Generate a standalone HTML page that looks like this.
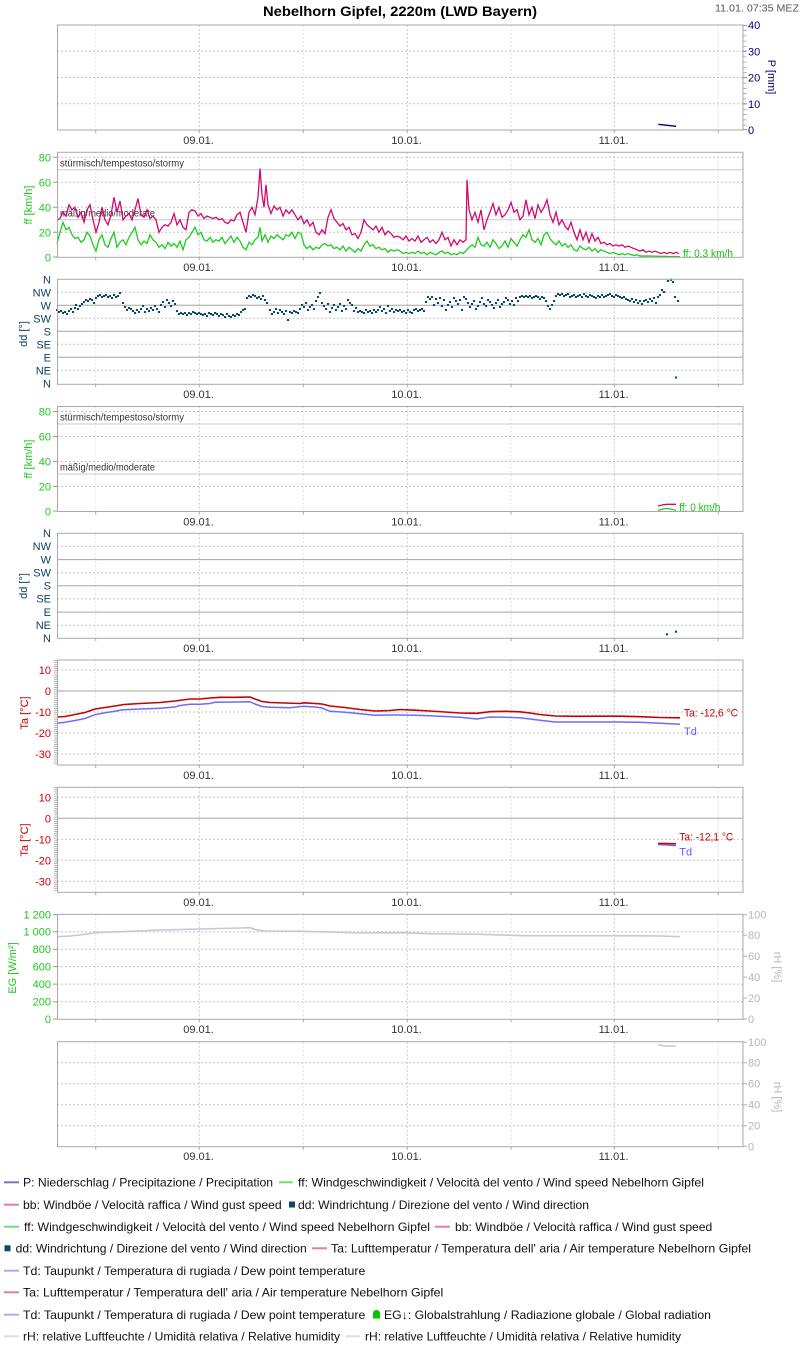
<!DOCTYPE html>
<html><head><meta charset="utf-8"><style>
html,body{margin:0;padding:0;background:#fff;}
svg{display:block;font-family:"Liberation Sans",Arial,sans-serif;}
.fr{fill:none;stroke:#a9a9a9;stroke-width:1}
.vd{stroke:#c6c6c6;stroke-width:1;stroke-dasharray:2,2}
.vl{stroke:#e2e2e2;stroke-width:1;stroke-dasharray:2,2}
.hd{stroke:#c4c4c4;stroke-width:1;stroke-dasharray:2,2}
.hs{stroke:#a6a6a6;stroke-width:1}
.hl{stroke:#c8c8c8;stroke-width:1}
.xl{font-size:11px;fill:#333;text-anchor:middle}
.yl{font-size:11px;text-anchor:end}
.rl{font-size:11px;text-anchor:start}
.tk{stroke:#999;stroke-width:1}
.lg{font-size:12px;fill:#111}
.ns{vector-effect:non-scaling-stroke}
</style></head><body>
<svg width="800" height="1350" viewBox="0 0 800 1350" xmlns="http://www.w3.org/2000/svg">
<defs>
<g id="vg">
<line class="vl" x1="95.7" y1="0" x2="95.7" y2="105"/>
<line class="vd" x1="199.3" y1="0" x2="199.3" y2="105"/>
<line class="vl" x1="303.3" y1="0" x2="303.3" y2="105"/>
<line class="vd" x1="407.3" y1="0" x2="407.3" y2="105"/>
<line class="vl" x1="511" y1="0" x2="511" y2="105"/>
<line class="vd" x1="614.3" y1="0" x2="614.3" y2="105"/>
<line class="vl" x1="718.3" y1="0" x2="718.3" y2="105"/>
</g>
<g id="fb">
<rect class="fr" x="57.5" y="0" width="685.5" height="105"/>
<path d="M95.7 105v3M199.3 105v3M303.3 105v3M407.3 105v3M511 105v3M614.3 105v3M718.3 105v3" stroke="#aaa" stroke-width="1"/>
</g>
</defs>

<!-- Title -->
<text x="263" y="16" font-size="14" font-weight="bold" fill="#000" textLength="274" lengthAdjust="spacingAndGlyphs">Nebelhorn Gipfel, 2220m (LWD Bayern)</text>
<text x="715" y="11.5" font-size="10" fill="#555" textLength="84" lengthAdjust="spacingAndGlyphs">11.01. 07:35 MEZ</text>

<!-- Panel 1: P -->
<g transform="translate(0,25)"><use href="#vg"/></g>
<line class="hd" x1="57" y1="51.25" x2="743" y2="51.25"/>
<line class="hd" x1="57" y1="77.5" x2="743" y2="77.5"/>
<line class="hd" x1="57" y1="103.75" x2="743" y2="103.75"/>
<polyline points="658.3,124.3 676,126.3" fill="none" stroke="#000080" stroke-width="1.3"/>
<g transform="translate(0,25)"><use href="#fb"/></g>
<line x1="745" y1="25" x2="745" y2="130" stroke="#999" stroke-width="3" stroke-dasharray="0.7 4.55"/>
<path class="tk" d="M743 25.5h4M743 51.25h4M743 77.5h4M743 103.75h4M743 129.5h4"/>
<g fill="#000080">
<text class="rl" x="748" y="29">40</text>
<text class="rl" x="748" y="55.5">30</text>
<text class="rl" x="748" y="81.5">20</text>
<text class="rl" x="748" y="108">10</text>
<text class="rl" x="748" y="134">0</text>
<text font-size="11" text-anchor="middle" transform="translate(768,77) rotate(90)">P [mm]</text>
</g>
<text class="xl" x="198.5" y="144">09.01.</text>
<text class="xl" x="406.5" y="144">10.01.</text>
<text class="xl" x="613.5" y="144">11.01.</text>

<!-- Panel 2: wind -->
<g transform="translate(0,152.3)"><use href="#vg"/></g>
<line class="hd" x1="57" y1="157.3" x2="743" y2="157.3"/>
<line class="hd" x1="57" y1="182.3" x2="743" y2="182.3"/>
<line class="hd" x1="57" y1="207.3" x2="743" y2="207.3"/>
<line class="hd" x1="57" y1="232.3" x2="743" y2="232.3"/>
<line class="hl" x1="57" y1="169.8" x2="743" y2="169.8"/>
<line class="hl" x1="57" y1="219.8" x2="743" y2="219.8"/>
<text x="60" y="166.5" font-size="10" fill="#333" textLength="124" lengthAdjust="spacingAndGlyphs">stürmisch/tempestoso/stormy</text>
<text x="60" y="216.5" font-size="10" fill="#333" textLength="95" lengthAdjust="spacingAndGlyphs">mäßig/medio/moderate</text>
<g transform="translate(0,257.3) scale(1,-1.25)">
<polyline class="ns" fill="none" stroke="#d10a6e" stroke-width="1.3" points="57,30 60,31 63,36 66,33 69,42 72,38 75,40 78,32 81,36 84,28 87,38 90,42 93,30 96,20 99,28 102,40 105,30 108,26 111,34 114,48 117,36 120,45 123,30 126,33 129,35 132,30 135,38 138,47 141,34 144,32 147,38 150,31 153,33 156,30 159,20 162,24 165,26 168,25 171,28 174,35 177,26 180,30 183,24 186,22 189,36 192,38 195,37 198,33 201,35 204,31 207,33 210,32 213,31 216,32 219,30 222,31 225,28 228,27 231,30 234,29 237,34 240,36 243,28 246,20 249,36 252,40 255,34 258,48 260,71 262,50 264,40 266,58 268,42 271,35 274,41 277,38 280,40 283,33 286,38 289,35 292,38 295,34 298,30 301,33 304,27 307,30 310,25 313,28 316,20 319,18 322,22 325,19 328,32 331,38 334,31 337,28 340,25 343,27 346,22 349,24 352,18 355,19 358,15 361,20 364,30 367,26 370,24 373,22 376,25 379,20 382,24 385,18 388,21 391,19 394,16 397,17 400,16 403,14 406,17 409,13 412,15 415,13 418,17 421,12 424,14 427,16 430,12 433,14 436,11 439,14 442,20 445,14 448,16 451,9 454,14 457,10 460,14 463,12 466,14 467,62 469,38 472,30 475,36 478,28 481,38 484,22 487,30 490,36 493,43 496,34 499,40 502,32 505,34 508,38 511,44 514,36 517,38 520,30 523,33 526,46 529,34 532,40 535,31 538,42 541,36 544,40 547,46 550,34 553,28 556,36 559,26 562,30 565,25 568,22 571,28 574,20 577,14 580,22 583,14 586,20 589,12 592,19 595,13 598,16 601,11 604,12 607,10 610,11 613,9 616,10 619,9 622,10 625,8 628,9 631,8 634,7 637,6 640,5 643,6 646,4 649,5 652,4 655,5 658,4 661,3 664,4 667,3 670,4 673,3 676,4 679,3"/>
<polyline class="ns" fill="none" stroke="#1ecb1e" stroke-width="1.3" points="57,11 60,20 63,28 66,22 69,24 72,18 75,15 78,16 81,12 84,14 87,20 90,17 93,10 96,5 99,14 102,18 105,10 108,8 111,15 114,20 117,8 120,12 123,14 126,10 129,16 132,20 135,24 138,14 141,10 144,13 147,11 150,18 153,14 156,12 159,8 162,10 165,7 168,12 171,9 174,11 177,8 180,13 183,6 186,14 189,16 192,20 195,24 198,18 201,20 204,14 207,13 210,16 213,12 216,14 219,13 222,16 225,11 228,14 231,17 234,12 237,16 240,13 243,8 246,6 249,12 252,10 255,14 258,16 260,24 262,13 265,18 268,12 271,17 274,15 277,18 280,16 283,14 286,18 289,17 292,20 295,15 298,20 301,19 304,10 307,7 310,9 313,6 316,8 319,7 322,10 325,11 328,9 331,10 334,7 337,8 340,6 343,9 346,5 349,8 352,6 355,4 358,7 361,5 364,10 367,13 370,9 373,10 376,7 379,8 382,6 385,7 388,4 391,6 394,5 397,6 400,5 403,3 406,4 409,3 412,4 415,3 418,5 421,3 424,4 427,2 430,4 433,3 436,2 439,4 442,5 445,3 448,4 451,2 454,3 457,2 460,4 463,3 466,5 469,8 472,10 475,8 478,16 481,10 484,9 487,12 490,8 493,14 496,11 499,7 502,9 505,13 508,8 511,15 514,12 517,9 520,14 523,18 526,16 529,22 532,14 535,12 538,15 541,10 544,18 547,20 550,15 553,12 556,10 559,13 562,9 565,11 568,8 571,10 574,6 577,5 580,9 583,7 586,6 589,8 592,5 595,7 598,4 601,6 604,5 607,4 610,3 613,4 616,3 619,2 622,3 625,2 628,3 631,2 634,1.5 637,2 640,1 650,1 660,0.8 670,0.6 680,0.5"/>
</g>
<text x="683" y="257" font-size="11" fill="#11c011" textLength="50" lengthAdjust="spacingAndGlyphs">ff: 0.3 km/h</text>
<g transform="translate(0,152.3)"><use href="#fb"/></g>
<path class="tk" d="M53 157.3h4M53 182.3h4M53 207.3h4M53 232.3h4M53 257h4"/>
<g fill="#1ec81e">
<text class="yl" x="51" y="161.3">80</text>
<text class="yl" x="51" y="186.3">60</text>
<text class="yl" x="51" y="211.3">40</text>
<text class="yl" x="51" y="236.3">20</text>
<text class="yl" x="51" y="261.3">0</text>
<text font-size="11" text-anchor="middle" transform="translate(32,205) rotate(-90)">ff [km/h]</text>
</g>
<text class="xl" x="198.5" y="271">09.01.</text>
<text class="xl" x="406.5" y="271">10.01.</text>
<text class="xl" x="613.5" y="271">11.01.</text>

<!-- Panel 3: dd -->
<g transform="translate(0,279.3)"><use href="#vg"/></g>
<line class="hd" x1="57" y1="292.3" x2="743" y2="292.3"/>
<line class="hs" x1="57" y1="305.3" x2="743" y2="305.3"/>
<line class="hd" x1="57" y1="318.3" x2="743" y2="318.3"/>
<line class="hs" x1="57" y1="331.3" x2="743" y2="331.3"/>
<line class="hd" x1="57" y1="344.3" x2="743" y2="344.3"/>
<line class="hs" x1="57" y1="357.3" x2="743" y2="357.3"/>
<line class="hd" x1="57" y1="370.3" x2="743" y2="370.3"/>
<path fill="none" stroke="#0b4a66" stroke-width="2.1" stroke-linecap="square" d="M57 310h.01M59 312h.01M61 311h.01M63 313h.01M65 312h.01M67 314h.01M69 311h.01M71 309h.01M73 312h.01M75 308h.01M76 305h.01M78 309h.01M80 306h.01M82 304h.01M84 302h.01M86 300h.01M88 301h.01M90 299h.01M92 300h.01M94 303h.01M96 298h.01M98 296h.01M100 295h.01M102 297h.01M104 296h.01M106 295h.01M108 297h.01M110 296h.01M112 298h.01M114 295h.01M116 297h.01M118 296h.01M120 293h.01M123 303h.01M125 307h.01M127 310h.01M129 308h.01M131 309h.01M133 311h.01M135 313h.01M137 310h.01M139 312h.01M141 309h.01M143 306h.01M145 312h.01M147 309h.01M149 311h.01M151 308h.01M153 310h.01M155 306h.01M157 309h.01M159 312h.01M161 305h.01M163 302h.01M165 307h.01M167 300h.01M169 303h.01M171 306h.01M173 301h.01M175 304h.01M177 311h.01M179 314h.01M181 313h.01M183 314h.01M185 313h.01M187 315h.01M189 313h.01M191 314h.01M193 312h.01M195 313h.01M197 314h.01M199 313h.01M201 314h.01M203 315h.01M205 314h.01M207 316h.01M209 313h.01M211 314h.01M213 315h.01M215 313h.01M217 314h.01M219 316h.01M221 314h.01M223 315h.01M225 317h.01M227 314h.01M229 316h.01M231 317h.01M233 315h.01M235 316h.01M237 314h.01M239 315h.01M241 312h.01M243 310h.01M245 309h.01M247 298h.01M249 296h.01M251 297h.01M253 295h.01M255 296h.01M257 298h.01M259 297h.01M261 299h.01M263 296h.01M265 300h.01M267 303h.01M270 310h.01M272 314h.01M274 312h.01M276 309h.01M278 313h.01M280 310h.01M282 312h.01M284 314h.01M286 311h.01M288 320h.01M290 312h.01M292 313h.01M294 311h.01M296 312h.01M298 313h.01M300 309h.01M302 305h.01M304 307h.01M306 303h.01M308 310h.01M310 307h.01M312 305h.01M314 309h.01M316 301h.01M318 297h.01M320 293h.01M322 303h.01M324 306h.01M326 309h.01M328 304h.01M330 312h.01M332 308h.01M334 305h.01M336 310h.01M338 307h.01M340 304h.01M342 311h.01M344 306h.01M346 309h.01M348 300h.01M350 303h.01M352 305h.01M354 311h.01M356 308h.01M358 312h.01M360 311h.01M362 312h.01M364 313h.01M366 310h.01M368 312h.01M370 311h.01M372 313h.01M374 310h.01M376 312h.01M378 310h.01M380 307h.01M382 311h.01M384 309h.01M386 313h.01M388 306h.01M390 311h.01M392 309h.01M394 312h.01M396 310h.01M398 311h.01M400 310h.01M402 312h.01M404 311h.01M406 313h.01M408 310h.01M410 312h.01M412 313h.01M414 310h.01M416 309h.01M418 311h.01M420 310h.01M422 309h.01M424 311h.01M426 302h.01M428 297h.01M430 299h.01M432 297h.01M434 305h.01M436 299h.01M438 303h.01M440 298h.01M442 306h.01M444 300h.01M446 310h.01M448 305h.01M450 302h.01M452 307h.01M454 298h.01M456 301h.01M458 304h.01M460 300h.01M462 310h.01M464 297h.01M466 299h.01M468 303h.01M470 307h.01M472 304h.01M474 301h.01M476 309h.01M478 306h.01M480 302h.01M482 298h.01M484 304h.01M486 306h.01M488 300h.01M490 302h.01M492 305h.01M494 308h.01M496 303h.01M498 300h.01M500 307h.01M502 304h.01M504 302h.01M506 298h.01M508 300h.01M510 304h.01M512 301h.01M514 305h.01M516 298h.01M518 301h.01M520 297h.01M522 296h.01M524 297h.01M526 296h.01M528 297h.01M530 296h.01M532 298h.01M534 297h.01M536 296h.01M538 297h.01M540 299h.01M542 297h.01M544 298h.01M546 301h.01M548 306h.01M550 309h.01M552 305h.01M554 301h.01M556 296h.01M558 294h.01M560 295h.01M562 294h.01M564 296h.01M566 295h.01M568 294h.01M570 297h.01M572 296h.01M574 295h.01M576 297h.01M578 296h.01M580 295h.01M582 297h.01M584 294h.01M586 296h.01M588 297h.01M590 295h.01M592 296h.01M594 297h.01M596 298h.01M598 296h.01M600 297h.01M602 295h.01M604 297h.01M606 296h.01M608 295h.01M610 294h.01M612 296h.01M614 297h.01M616 295h.01M618 296h.01M620 297h.01M622 298h.01M624 297h.01M626 299h.01M628 300h.01M630 301h.01M632 299h.01M634 302h.01M636 300h.01M638 303h.01M640 301h.01M642 304h.01M644 301h.01M646 300h.01M648 302h.01M650 299h.01M652 301h.01M654 298h.01M656 303h.01M658 297h.01M660 295h.01M662 290h.01M664 292h.01M668 281h.01M671 279.8h.01M673 282h.01M675 297h.01M676 377.5h.01M678 301h.01"/>
<g transform="translate(0,279.3)"><use href="#fb"/></g>
<g fill="#0b3f5c">
<text class="yl" x="51" y="283.3">N</text>
<text class="yl" x="51" y="296.3">NW</text>
<text class="yl" x="51" y="309.3">W</text>
<text class="yl" x="51" y="322.3">SW</text>
<text class="yl" x="51" y="335.3">S</text>
<text class="yl" x="51" y="348.3">SE</text>
<text class="yl" x="51" y="361.3">E</text>
<text class="yl" x="51" y="374.3">NE</text>
<text class="yl" x="51" y="387.3">N</text>
<text font-size="11" text-anchor="middle" transform="translate(27,334) rotate(-90)">dd [°]</text>
</g>
<text class="xl" x="198.5" y="398">09.01.</text>
<text class="xl" x="406.5" y="398">10.01.</text>
<text class="xl" x="613.5" y="398">11.01.</text>

<!-- Panel 4: wind 2 -->
<g transform="translate(0,406.5)"><use href="#vg"/></g>
<line class="hd" x1="57" y1="411.5" x2="743" y2="411.5"/>
<line class="hd" x1="57" y1="436.5" x2="743" y2="436.5"/>
<line class="hd" x1="57" y1="461.5" x2="743" y2="461.5"/>
<line class="hd" x1="57" y1="486.5" x2="743" y2="486.5"/>
<line class="hl" x1="57" y1="424" x2="743" y2="424"/>
<line class="hl" x1="57" y1="474" x2="743" y2="474"/>
<text x="60" y="420.7" font-size="10" fill="#333" textLength="124" lengthAdjust="spacingAndGlyphs">stürmisch/tempestoso/stormy</text>
<text x="60" y="470.7" font-size="10" fill="#333" textLength="95" lengthAdjust="spacingAndGlyphs">mäßig/medio/moderate</text>
<polyline points="658,506 663,504.8 667,504.3 676,504.3" fill="none" stroke="#d10a6e" stroke-width="1.3"/>
<polyline points="658,510.5 663,509 667,508.4 672,509.3 676,510.4" fill="none" stroke="#1ecb1e" stroke-width="1.2"/>
<text x="679.3" y="511" font-size="11" fill="#11c011" textLength="41" lengthAdjust="spacingAndGlyphs">ff: 0 km/h</text>
<g transform="translate(0,406.5)"><use href="#fb"/></g>
<path class="tk" d="M53 411.5h4M53 436.5h4M53 461.5h4M53 486.5h4M53 511h4"/>
<g fill="#1ec81e">
<text class="yl" x="51" y="415.5">80</text>
<text class="yl" x="51" y="440.5">60</text>
<text class="yl" x="51" y="465.5">40</text>
<text class="yl" x="51" y="490.5">20</text>
<text class="yl" x="51" y="515.5">0</text>
<text font-size="11" text-anchor="middle" transform="translate(32,459) rotate(-90)">ff [km/h]</text>
</g>
<text class="xl" x="198.5" y="525.3">09.01.</text>
<text class="xl" x="406.5" y="525.3">10.01.</text>
<text class="xl" x="613.5" y="525.3">11.01.</text>

<!-- Panel 5: dd 2 -->
<g transform="translate(0,533.3)"><use href="#vg"/></g>
<line class="hd" x1="57" y1="546.4" x2="743" y2="546.4"/>
<line class="hs" x1="57" y1="559.6" x2="743" y2="559.6"/>
<line class="hd" x1="57" y1="572.7" x2="743" y2="572.7"/>
<line class="hs" x1="57" y1="585.8" x2="743" y2="585.8"/>
<line class="hd" x1="57" y1="598.9" x2="743" y2="598.9"/>
<line class="hs" x1="57" y1="612.1" x2="743" y2="612.1"/>
<line class="hd" x1="57" y1="625.2" x2="743" y2="625.2"/>
<path fill="none" stroke="#0b4a66" stroke-width="2.1" stroke-linecap="square" d="M667 634.3h.01M676 631.7h.01"/>
<g transform="translate(0,533.3)"><use href="#fb"/></g>
<g fill="#0b3f5c">
<text class="yl" x="51" y="537">N</text>
<text class="yl" x="51" y="550.2">NW</text>
<text class="yl" x="51" y="563.3">W</text>
<text class="yl" x="51" y="576.4">SW</text>
<text class="yl" x="51" y="589.5">S</text>
<text class="yl" x="51" y="602.7">SE</text>
<text class="yl" x="51" y="615.8">E</text>
<text class="yl" x="51" y="628.9">NE</text>
<text class="yl" x="51" y="642">N</text>
<text font-size="11" text-anchor="middle" transform="translate(27,586) rotate(-90)">dd [°]</text>
</g>
<text class="xl" x="198.5" y="652">09.01.</text>
<text class="xl" x="406.5" y="652">10.01.</text>
<text class="xl" x="613.5" y="652">11.01.</text>

<!-- Panel 6: Temperature -->
<g transform="translate(0,660)"><use href="#vg"/></g>
<line class="hd" x1="57" y1="670" x2="743" y2="670"/>
<line class="hs" x1="57" y1="691" x2="743" y2="691"/>
<line class="hd" x1="57" y1="712" x2="743" y2="712"/>
<line class="hd" x1="57" y1="733" x2="743" y2="733"/>
<line class="hd" x1="57" y1="754" x2="743" y2="754"/>
<polyline fill="none" stroke="#6c6cff" stroke-width="1.5" points="57,723.3 65,722.3 75,720.5 85,718.5 95,714.7 105,712.8 115,711.2 121,710 124,709.8 140,709 160,708.2 175,707 180,705.5 190,704.3 200,704.3 210,703.5 215,702.3 235,702 250,701.7 255,704 262,706.5 270,707.3 290,707.7 303,706.3 315,707 322,708 330,711.3 345,712.3 360,713.8 375,715.3 390,715 400,715 415,715.3 430,715.7 445,716.5 460,717.3 477,719 490,717 505,717.3 520,717.8 530,719 540,720.3 555,722 580,722 600,722 620,722 640,722.3 660,723.3 680,724.3"/>
<polyline fill="none" stroke="#c80000" stroke-width="1.6" points="57,717 65,716.5 75,714.5 85,712.5 95,709 105,707.5 115,706 121,705 124,704.5 140,703.5 160,702.5 175,701 190,699 200,699 210,698 220,697.3 235,697.3 250,697 255,699 262,701.5 270,702.5 285,703 300,703.5 304,702.8 315,703.5 322,704 330,706 345,707.5 360,709.5 375,711 390,710.5 400,709.5 415,710.2 430,711 445,712 460,713 477,713.3 490,711.7 505,711.3 520,711.8 530,713 540,714.5 555,716 575,716.3 600,716.2 620,716.2 640,716.7 660,717.5 680,717.8"/>
<text x="684" y="716.5" font-size="11" fill="#cc0000" textLength="54" lengthAdjust="spacingAndGlyphs">Ta: -12,6 °C</text>
<text x="684" y="735" font-size="11" fill="#5a5aff">Td</text>
<g transform="translate(0,660)"><use href="#fb"/></g>
<line x1="55.5" y1="660" x2="55.5" y2="765" stroke="#999" stroke-width="3" stroke-dasharray="0.7 1.4"/>
<g fill="#cc0000">
<text class="yl" x="51" y="674">10</text>
<text class="yl" x="51" y="695">0</text>
<text class="yl" x="51" y="716">-10</text>
<text class="yl" x="51" y="737">-20</text>
<text class="yl" x="51" y="758">-30</text>
<text font-size="11" text-anchor="middle" transform="translate(28,713) rotate(-90)">Ta [°C]</text>
</g>
<text class="xl" x="198.5" y="779">09.01.</text>
<text class="xl" x="406.5" y="779">10.01.</text>
<text class="xl" x="613.5" y="779">11.01.</text>

<!-- Panel 7: Temperature 2 -->
<g transform="translate(0,787.3)"><use href="#vg"/></g>
<line class="hd" x1="57" y1="797.3" x2="743" y2="797.3"/>
<line class="hs" x1="57" y1="818.3" x2="743" y2="818.3"/>
<line class="hd" x1="57" y1="839.3" x2="743" y2="839.3"/>
<line class="hd" x1="57" y1="860.3" x2="743" y2="860.3"/>
<line class="hd" x1="57" y1="881.3" x2="743" y2="881.3"/>
<polyline fill="none" stroke="#6c6cff" stroke-width="1.5" points="658,844.5 667,845 676,845.7"/>
<polyline fill="none" stroke="#c80000" stroke-width="1.6" points="658,843.4 667,843.5 676,843.8"/>
<text x="679.3" y="840.7" font-size="11" fill="#cc0000" textLength="54" lengthAdjust="spacingAndGlyphs">Ta: -12,1 °C</text>
<text x="679.3" y="855.7" font-size="11" fill="#5a5aff">Td</text>
<g transform="translate(0,787.3)"><use href="#fb"/></g>
<line x1="55.5" y1="787.3" x2="55.5" y2="892.3" stroke="#999" stroke-width="3" stroke-dasharray="0.7 1.4"/>
<g fill="#cc0000">
<text class="yl" x="51" y="801.3">10</text>
<text class="yl" x="51" y="822.3">0</text>
<text class="yl" x="51" y="843.3">-10</text>
<text class="yl" x="51" y="864.3">-20</text>
<text class="yl" x="51" y="885.3">-30</text>
<text font-size="11" text-anchor="middle" transform="translate(28,840) rotate(-90)">Ta [°C]</text>
</g>
<text class="xl" x="198.5" y="906">09.01.</text>
<text class="xl" x="406.5" y="906">10.01.</text>
<text class="xl" x="613.5" y="906">11.01.</text>

<!-- Panel 8: EG / rH -->
<g transform="translate(0,914.3)"><use href="#vg"/></g>
<line class="hd" x1="57" y1="931.7" x2="743" y2="931.7"/>
<line class="hd" x1="57" y1="949.2" x2="743" y2="949.2"/>
<line class="hd" x1="57" y1="966.6" x2="743" y2="966.6"/>
<line class="hd" x1="57" y1="984.1" x2="743" y2="984.1"/>
<line class="hd" x1="57" y1="1001.7" x2="743" y2="1001.7"/>
<polyline fill="none" stroke="#c6c6da" stroke-width="1.6" points="57,936.7 70,936 80,935 95,932.7 120,931.7 160,930 200,929 240,928 250,927.7 256,929.7 265,931 303,931.3 330,932 360,933 400,932.7 430,933.7 480,934.3 525,935.7 614,935.7 660,936 680,936.7"/>
<g transform="translate(0,914.3)"><use href="#fb"/></g>
<path class="tk" d="M53 914.8h4M53 931.7h4M53 949.2h4M53 966.6h4M53 984.1h4M53 1001.7h4M53 1019h4"/>
<path d="M743 914.8h4M743 935.2h4M743 956.1h4M743 977.1h4M743 998h4M743 1019h4" stroke="#b0b0b0" stroke-width="1"/>
<g fill="#1ec81e">
<text class="yl" x="51" y="918.5">1 200</text>
<text class="yl" x="51" y="935.7">1 000</text>
<text class="yl" x="51" y="953.2">800</text>
<text class="yl" x="51" y="970.6">600</text>
<text class="yl" x="51" y="988.1">400</text>
<text class="yl" x="51" y="1005.7">200</text>
<text class="yl" x="51" y="1023">0</text>
<text font-size="11" text-anchor="middle" transform="translate(16,968) rotate(-90)">EG [W/m²]</text>
</g>
<g fill="#b4b4c4">
<text class="rl" x="748" y="918.5">100</text>
<text class="rl" x="748" y="939.2">80</text>
<text class="rl" x="748" y="960.1">60</text>
<text class="rl" x="748" y="981.1">40</text>
<text class="rl" x="748" y="1002">20</text>
<text class="rl" x="748" y="1023">0</text>
<text font-size="11" text-anchor="middle" transform="translate(774,967) rotate(90)">rH [%]</text>
</g>
<text class="xl" x="198.5" y="1033">09.01.</text>
<text class="xl" x="406.5" y="1033">10.01.</text>
<text class="xl" x="613.5" y="1033">11.01.</text>

<!-- Panel 9: rH -->
<g transform="translate(0,1041.7)"><use href="#vg"/></g>
<line class="hd" x1="57" y1="1062.7" x2="743" y2="1062.7"/>
<line class="hd" x1="57" y1="1083.7" x2="743" y2="1083.7"/>
<line class="hd" x1="57" y1="1104.7" x2="743" y2="1104.7"/>
<line class="hd" x1="57" y1="1125.7" x2="743" y2="1125.7"/>
<polyline fill="none" stroke="#c6c6da" stroke-width="1.6" points="658,1044.7 665,1046 676,1046"/>
<g transform="translate(0,1041.7)"><use href="#fb"/></g>
<path d="M743 1042.2h4M743 1062.7h4M743 1083.7h4M743 1104.7h4M743 1125.7h4M743 1146.2h4" stroke="#b0b0b0" stroke-width="1"/>
<g fill="#b4b4c4">
<text class="rl" x="748" y="1045.9">100</text>
<text class="rl" x="748" y="1066.7">80</text>
<text class="rl" x="748" y="1087.5">60</text>
<text class="rl" x="748" y="1108.5">40</text>
<text class="rl" x="748" y="1129.3">20</text>
<text class="rl" x="748" y="1150.7">0</text>
<text font-size="11" text-anchor="middle" transform="translate(774,1097) rotate(90)">rH [%]</text>
</g>
<text class="xl" x="198.5" y="1160">09.01.</text>
<text class="xl" x="406.5" y="1160">10.01.</text>
<text class="xl" x="613.5" y="1160">11.01.</text>

<!-- Legend -->
<g stroke-width="2">
<line x1="4" y1="1182.3" x2="19" y2="1182.3" stroke="#7474c2"/>
<line x1="279" y1="1182.3" x2="293" y2="1182.3" stroke="#6ee06e"/>
<line x1="4" y1="1204.7" x2="19" y2="1204.7" stroke="#e478b4"/>
<line x1="4" y1="1226.7" x2="19" y2="1226.7" stroke="#6ee06e"/>
<line x1="435" y1="1226.7" x2="450" y2="1226.7" stroke="#e478b4"/>
<line x1="312" y1="1248.3" x2="327" y2="1248.3" stroke="#e88080"/>
<line x1="4" y1="1270.7" x2="19" y2="1270.7" stroke="#aaaaf4"/>
<line x1="4" y1="1292.3" x2="19" y2="1292.3" stroke="#e88080"/>
<line x1="4" y1="1314.7" x2="19" y2="1314.7" stroke="#aaaaf4"/>
<line x1="4" y1="1336.3" x2="19" y2="1336.3" stroke="#dcdce4"/>
<line x1="346" y1="1336.3" x2="360" y2="1336.3" stroke="#dcdce4"/>
</g>
<rect x="289" y="1201.5" width="6" height="6" fill="#0b4a66"/>
<rect x="4.5" y="1245.3" width="6" height="6" fill="#0b4a66"/>
<path d="M373 1318.5 L373 1314 Q373 1310 376.5 1310 Q380 1310 380 1314 L380 1318.5 Z" fill="#00c800"/>
<text class="lg" x="23" y="1186.5" textLength="250" lengthAdjust="spacingAndGlyphs">P: Niederschlag / Precipitazione / Precipitation</text>
<text class="lg" x="298" y="1186.5" textLength="406" lengthAdjust="spacingAndGlyphs">ff: Windgeschwindigkeit / Velocità del vento / Wind speed  Nebelhorn Gipfel</text>
<text class="lg" x="23" y="1208.9" textLength="258.7" lengthAdjust="spacingAndGlyphs">bb: Windböe / Velocità raffica / Wind gust speed</text>
<text class="lg" x="298" y="1208.9" textLength="291" lengthAdjust="spacingAndGlyphs">dd: Windrichtung / Direzione del vento / Wind direction</text>
<text class="lg" x="24" y="1230.9" textLength="406" lengthAdjust="spacingAndGlyphs">ff: Windgeschwindigkeit / Velocità del vento / Wind speed  Nebelhorn Gipfel</text>
<text class="lg" x="455" y="1230.9" textLength="257.3" lengthAdjust="spacingAndGlyphs">bb: Windböe / Velocità raffica / Wind gust speed</text>
<text class="lg" x="15.7" y="1252.5" textLength="291" lengthAdjust="spacingAndGlyphs">dd: Windrichtung / Direzione del vento / Wind direction</text>
<text class="lg" x="331" y="1252.5" textLength="420" lengthAdjust="spacingAndGlyphs">Ta: Lufttemperatur / Temperatura dell' aria / Air temperature  Nebelhorn Gipfel</text>
<text class="lg" x="23" y="1274.9" textLength="342.3" lengthAdjust="spacingAndGlyphs">Td: Taupunkt / Temperatura di rugiada / Dew point temperature</text>
<text class="lg" x="23" y="1296.5" textLength="420.3" lengthAdjust="spacingAndGlyphs">Ta: Lufttemperatur / Temperatura dell' aria / Air temperature  Nebelhorn Gipfel</text>
<text class="lg" x="23" y="1318.9" textLength="342.3" lengthAdjust="spacingAndGlyphs">Td: Taupunkt / Temperatura di rugiada / Dew point temperature</text>
<text class="lg" x="384" y="1318.9" textLength="327" lengthAdjust="spacingAndGlyphs">EG↓: Globalstrahlung / Radiazione globale / Global radiation</text>
<text class="lg" x="23" y="1340.5" textLength="317" lengthAdjust="spacingAndGlyphs">rH: relative Luftfeuchte / Umidità relativa / Relative humidity</text>
<text class="lg" x="365" y="1340.5" textLength="316" lengthAdjust="spacingAndGlyphs">rH: relative Luftfeuchte / Umidità relativa / Relative humidity</text>
</svg>
</body></html>
